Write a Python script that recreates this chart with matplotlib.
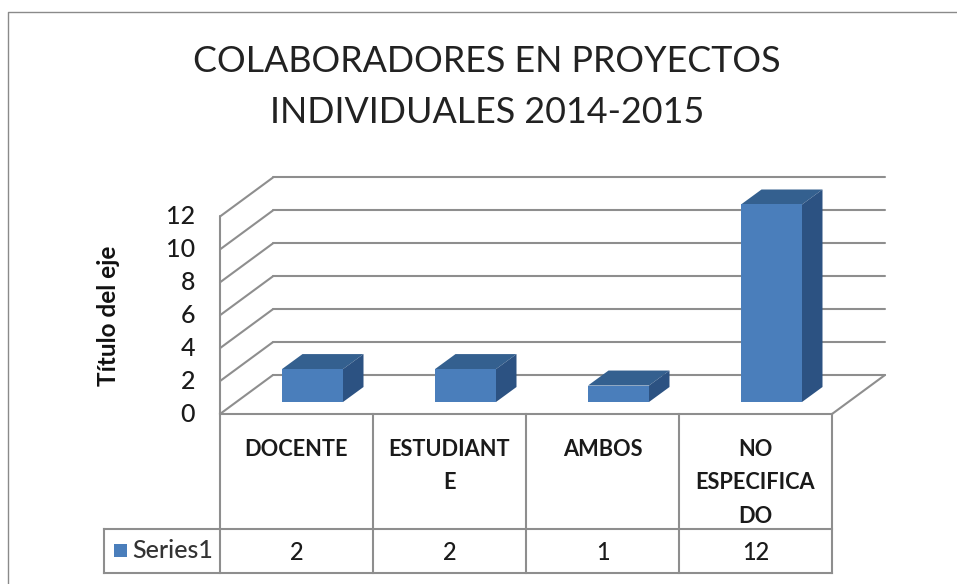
import matplotlib
matplotlib.use("Agg")
import matplotlib.pyplot as plt
from matplotlib.lines import Line2D
from matplotlib.patches import Polygon, Rectangle

categories = ["DOCENTE", "ESTUDIANT\nE", "AMBOS", "NO\nESPECIFICA\nDO"]
values = [2, 2, 1, 12]
series_name = "Series1"
y_ticks = [0, 2, 4, 6, 8, 10, 12]
title = "COLABORADORES EN PROYECTOS\nINDIVIDUALES 2014-2015"
y_title = "Título del eje"

W, H = 957, 584
X0, X1, Y0, Y12 = 220, 832, 414, 216.5
FONT = "Lato"
GRID = "#8e8e8e"
TXT = "#1a1a1a"

fig = plt.figure(figsize=(W / 100, H / 100), dpi=100, facecolor="white")
ax = fig.add_axes([X0 / W, 1 - Y0 / H, (X1 - X0) / W, (Y0 - Y12) / H])
ax.set_xlim(0, len(categories))
ax.set_ylim(0, 12)
ax.axis("off")
ppx = len(categories) / (X1 - X0)
ppy = 12 / (Y0 - Y12)

wall_dx, wall_dy = 53 * ppx, 39 * ppy
n = len(categories)

kw = dict(color=GRID, lw=1.5, clip_on=False, solid_capstyle="round")
for t in y_ticks:
    ax.plot([0, wall_dx], [t, t + wall_dy], zorder=1, **kw)
    ax.plot([wall_dx, n + wall_dx], [t + wall_dy] * 2, zorder=1, **kw)
ax.plot([0, 0], [0, 12], zorder=1, **kw)
ax.plot([n, n + wall_dx], [0, wall_dy], zorder=1, **kw)

# bars
bar_w = 61 * ppx
lift = 12 * ppy
shift = 16 * ppx
bar_dx, bar_dy = 20.5 * ppx, 15 * ppy
FRONT, TOP, SIDE = "#4a7ebb", "#34608f", "#2c5282"
for i, v in enumerate(values):
    l = i + 0.5 - bar_w / 2 + shift
    r = l + bar_w
    b = lift
    t = lift + v
    ax.add_patch(Polygon([(l, t), (r, t), (r + bar_dx, t + bar_dy), (l + bar_dx, t + bar_dy)],
                         fc=TOP, ec="none", clip_on=False, zorder=3))
    ax.add_patch(Polygon([(r, b), (r + bar_dx, b + bar_dy), (r + bar_dx, t + bar_dy), (r, t)],
                         fc=SIDE, ec="none", clip_on=False, zorder=3))
    ax.add_patch(Rectangle((l, b), bar_w, v, fc=FRONT, ec="none", clip_on=False, zorder=4))

# y tick labels
for t in y_ticks:
    ax.annotate(str(t), (0, t), xytext=(-25, 0), textcoords="offset pixels", ha="right",
                va="center", fontsize=18, family=FONT, color=TXT, annotation_clip=False,
                weight="medium")

# data table
row1 = 529
row2 = 573
left = 104
def py(p):
    return (Y0 - p) * ppy
tk = dict(color=GRID, lw=1.5, clip_on=False, zorder=2)
for i in range(n + 1):
    ax.plot([i, i], [py(Y0), py(row2)], **tk)
ax.plot([0, n], [py(Y0), py(Y0)], **tk)
ax.plot([(left - X0) * ppx, n], [py(row1), py(row1)], **tk)
ax.plot([(left - X0) * ppx, n], [py(row2), py(row2)], **tk)
ax.plot([(left - X0) * ppx] * 2, [py(row1), py(row2)], **tk)
for i, (c, v) in enumerate(zip(categories, values)):
    ax.text(i + 0.5, py(439), c, ha="center", va="top", fontsize=15.7, family=FONT, color=TXT,
            weight="bold", linespacing=1.73)
    ax.text(i + 0.5, py(552), str(v), ha="center", va="center", fontsize=17, family=FONT, color=TXT,
            weight="medium")
ax.add_patch(Rectangle(((114 - X0) * ppx, py(557)), 13 * ppx, 13 * ppy, fc=FRONT, ec="none", clip_on=False))
ax.text((132 - X0) * ppx, py(551), series_name, ha="left", va="center", fontsize=18, family=FONT,
        color="#333333", weight="medium")

fig.text(487 / W, 1 - 87 / H, title, ha="center", va="center", fontsize=25.8, family=FONT,
         color="#222222", linespacing=1.65)
fig.text(108 / W, 1 - 316 / H, y_title, rotation=90, ha="center", va="center", fontsize=17.5,
         family=FONT, weight="bold", color="#111111")

# chart area border: visible along the left and top only
fig.add_artist(Line2D([8 / W, 8 / W, 1], [0, 1 - 12 / H, 1 - 12 / H], transform=fig.transFigure,
                      color="#8a8a8a", lw=1))
fig.savefig("out.png", dpi=100)
